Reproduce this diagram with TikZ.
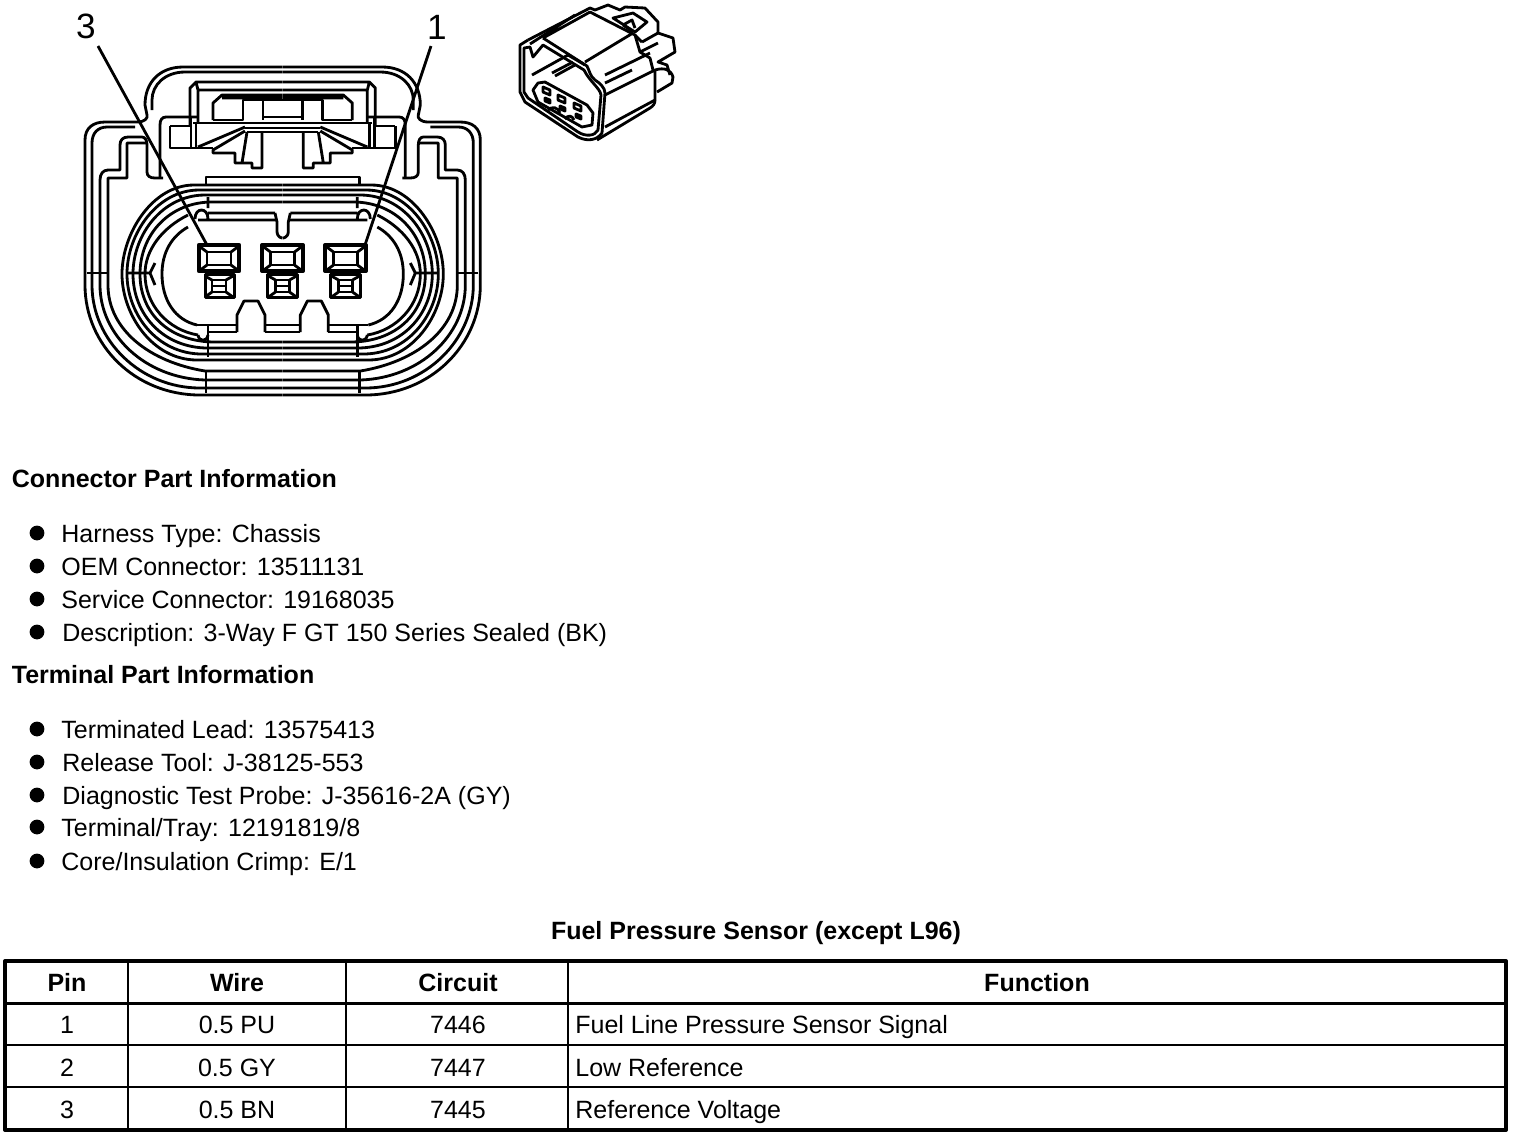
\documentclass[tikz,border=0pt]{standalone}
\usepackage{fontspec}
\setmainfont{Liberation Sans}
\tikzset{
    plain/.style={font=\fontsize{7.11}{9}\selectfont, inner sep=0pt, anchor=base west},
    heading/.style={plain, font=\fontsize{7.11}{9}\selectfont\bfseries},
    cell/.style={plain, anchor=base},
    headcell/.style={heading, anchor=base},
    pinlabel/.style={font=\fontsize{10}{11}\selectfont, inner sep=0pt},
    bullet/.style={circle, fill=black, inner sep=0pt, minimum size=4.2pt},
    pinbox/.style={draw, line width=1.1pt, inner sep=0pt, minimum width=11.5pt, minimum height=7.5pt},
    lugbox/.style={draw, line width=.9pt, inner sep=0pt, minimum width=8.4pt, minimum height=6.5pt},
}
\newcommand{\halfbody}{
    % shell
    \draw (282.5,395) -- (200,395) .. controls (135,395) and (85,345) .. (85,285) -- (85,140) .. controls (85,128) and (93,122) .. (105,122) -- (137,122) .. controls (145,122) and (148,118) .. (147,115) -- (145,105) .. controls (145,82) and (160,67) .. (183,67) -- (282.5,67);
    \draw (282.5,388) -- (200,388) .. controls (140,388) and (92,340) .. (92,285) -- (92,143) .. controls (92,133) and (98,127) .. (107,127) -- (135,127);
    \draw (282.5,380) -- (205,380) .. controls (145,378) and (100,335) .. (100,285) -- (100,180) .. controls (100,174) and (103,170) .. (108,170) -- (120,170) -- (120,145) .. controls (120,140) and (123,137) .. (128,137) -- (142,137) .. controls (145,137) and (147,140) .. (147,145) -- (147,172) .. controls (147,176) and (150,178) .. (155,178) -- (163,178);
    \draw (282.5,371) -- (205,371) .. controls (150,362) and (108,330) .. (108,285) -- (108,178) -- (127,178) -- (127,143) -- (147,143);
    \draw (152,110) -- (152,100) .. controls (152,85) and (165,72) .. (185,72) -- (282.5,72);
    \draw (206,371) -- (206,393) (87,273) -- (108,273);
    % latch
    \draw (282.5,82) -- (196,82) -- (190,88) -- (190,125) (198,90) -- (198,123) (196,82) -- (198,90) -- (282.5,90);
    \draw (213,120) -- (213,103) -- (222,95) -- (282.5,95) (222,98) -- (282.5,98);
    \draw (213,120) -- (243,120) -- (243,100) -- (282.5,100) (263,100) -- (263,120) (263,117) -- (282.5,117);
    \draw (193,123) -- (282.5,123) (245,128) -- (282.5,128) (247,132) -- (282.5,132);
    \draw (160,178) -- (160,125) .. controls (160,120) and (162,117) .. (166,117) -- (198,117);
    \draw (170,126) -- (170,148) -- (213,148) (170,126) -- (191,126) (191,117) -- (191,148) (196,123) -- (196,148);
    \draw (245,127) -- (198,147) (245,131) -- (213,150) -- (213,153) -- (235,153) -- (235,163) -- (252,163) -- (252,168) -- (262,168) -- (262,132) (242,163) -- (247,132);
    % gasket
    \draw (206,185) -- (206,177) -- (282.5,177);
    \foreach \l/\t/\b in {122/185/360, 127/190/354, 133/195/348, 140/202/342}
        \draw (282.5,\t) -- ({\l+72},\t) .. controls ({\l+30},\t) and (\l,234) .. (\l,274) .. controls (\l,314) and ({\l+30},\b) .. ({\l+75},\b) -- (282.5,\b);
    \draw (188,215) .. controls (162,228) and (145,250) .. (145,274) .. controls (145,305) and (168,330) .. (198,335);
    \draw (188,227) .. controls (172,236) and (162,252) .. (162,274) .. controls (162,300) and (175,320) .. (197,325);
    \draw (197,325) -- (237,325) (208,332) -- (237,332) (208,325) -- (208,357) (265,332) -- (282.5,332) (265,325) -- (282.5,325);
    \draw (128,273) -- (150,273) -- (155,263) (150,273) -- (155,285);
    \draw (195,219) .. controls (195,207) and (208,207) .. (208,219) (208,213) -- (275,213) (198,220) -- (276,220);
    \draw (198,335) .. controls (199,342) and (207,342) .. (208,335) (208,197) -- (208,208);
    \draw (275,213) -- (277,222) -- (277,231) .. controls (277,238) and (282.5,238) .. (282.5,238);
    % keys
    \draw (237,332) -- (237,315) -- (244,301) -- (258,301) -- (265,315) -- (265,332);
}
\begin{document}
\begin{tikzpicture}[x=0.01cm, y=-0.01cm, line join=round, line width=.8pt]
    \useasboundingbox (0,0) rectangle (1520,1138);

    \begin{scope}
        \halfbody
    \end{scope}
    \begin{scope}[xshift=5.65cm, xscale=-1]
        \halfbody
    \end{scope}

    % pins
    \node[pinbox] (pin3) at (219,258) {};
    \node[pinbox] (pin2) at (282.5,258) {};
    \node[pinbox] (pin1) at (345.5,258) {};
    \node[lugbox] (lug3) at (220,286) {};
    \node[lugbox] (lug2) at (282.5,286) {};
    \node[lugbox] (lug1) at (345.5,286) {};
    \foreach \x in {219,282.5,345.5} {
        \draw ({\x-12},252) rectangle ({\x+12},265);
        \draw ({\x-20},246) -- ({\x-12},252) ({\x+20},246) -- ({\x+12},252) ({\x-20},271) -- ({\x-12},265) ({\x+20},271) -- ({\x+12},265);
        \draw ({\x-7},280) rectangle ({\x+7},292) ({\x-7},286) -- ({\x+7},286);
        \draw ({\x-14},276) -- ({\x-7},280) ({\x+14},276) -- ({\x+7},280) ({\x-14},297) -- ({\x-7},292) ({\x+14},297) -- ({\x+7},292);
    }

    % leaders
    \node[pinlabel] (label3) at (86,26) {3};
    \node[pinlabel] (label1) at (437,27) {1};
    \coordinate (tip3) at (207,245);
    \coordinate (tip1) at (365,245);
    \coordinate (start3) at (98,46);
    \coordinate (start1) at (431,46);
    \draw (start3) -- (tip3);
    \draw (start1) -- (tip1);

    % small view
    \draw (528,40) -- (520,45) -- (520,92) -- (525,102) -- (578,137) .. controls (588,142) and (597,140) .. (602,133) -- (605,93) .. controls (605,88) and (600,83) .. (595,80) .. controls (590,76) and (590,72) .. (587,66) -- (543,38);
    \draw (524,48) -- (524,92) -- (528,98) -- (578,132) .. controls (586,137) and (595,136) .. (598,130) -- (601,95) .. controls (600,88) and (590,82) .. (584,70) -- (543,45) -- (533,57) -- (530,47) -- cycle;
    \draw (528,40) -- (590,8) -- (595,10) -- (608,5) -- (620,10) -- (625,7) -- (645,8) -- (658,22) -- (658,33) -- (673,38) -- (675,52) -- (658,62) -- (667,65) -- (670,75);
    \draw (530,44) -- (575,15) (543,38) -- (590,12) -- (635,35) -- (640,52) -- (650,58) -- (653,70);
    \draw (585,62) -- (633,33) (642,42) -- (658,33) (635,35) -- (642,42) (640,52) -- (658,43);
    \draw (613,18) -- (633,13) -- (647,22) -- (635,32) -- cycle (623,25) -- (632,20) -- (635,28) (623,25) -- (633,32);
    \draw (605,75) -- (650,53) (605,83) -- (632,70) (605,95) -- (655,70) -- (655,100) (605,127) -- (655,100);
    \draw (597,140) -- (650,108) .. controls (653,106) and (655,104) .. (655,100);
    \draw (655,70) .. controls (665,67) and (671,70) .. (673,77) -- (672,83) -- (657,92);
    \draw (532,75) -- (568,55) -- (585,65) (552,73) -- (573,62) (555,76) -- (575,65);
    \draw (533,90) -- (538,83) -- (545,82) -- (587,105) -- (593,113) -- (592,125) -- (582,127) -- (538,102) -- cycle;
    \foreach \x/\y in {543/87, 558/95, 574/103} {
        \draw (\x,\y) -- ({\x+7},{\y+3}) -- ({\x+7},{\y+8}) -- (\x,{\y+5}) -- cycle;
        \draw ({\x+2},{\y+11}) -- ({\x+7},{\y+13}) -- ({\x+7},{\y+16}) -- ({\x+2},{\y+14}) -- cycle;
    }
    \draw (548,110) .. controls (552,106) and (558,107) .. (560,113);
    \draw (565,119) .. controls (568,115) and (572,115) .. (574,120);

    % part information
    \node[heading] (connectorinfo) at (10.5,487) {Connector Part Information};
    \foreach \n/\x/\y/\t in {harness/60/542/{Harness Type: Chassis}, oem/60/575/{OEM Connector: 13511131}, service/60/608/{Service Connector: 19168035}, descr/61/641/{Description: 3-Way F GT 150 Series Sealed (BK)}} {
        \node[plain] (\n) at (\x,\y) {\t};
        \node[bullet] (\n bullet) at (37,{\y-9}) {};
    }
    \node[heading] (terminalinfo) at (10.5,683) {Terminal Part Information};
    \foreach \n/\x/\y/\t in {lead/60/738/{Terminated Lead: 13575413}, tool/61/771/{Release Tool: J-38125-553}, probe/61/804/{Diagnostic Test Probe: J-35616-2A (GY)}, tray/60/836/{Terminal/Tray: 12191819/8}, crimp/60/870/{Core/Insulation Crimp: E/1}} {
        \node[plain] (\n) at (\x,\y) {\t};
        \node[bullet] (\n bullet) at (37,{\y-9}) {};
    }

    % table
    \node[headcell] (tabletitle) at (756,939) {Fuel Pressure Sensor (except L96)};
    \draw[line width=1.15pt] (5,961) rectangle (1506,1130);
    \draw[line width=.85pt] (5,1003) -- (1506,1003);
    \draw[line width=.7pt] (5,1045) -- (1506,1045) (5,1087) -- (1506,1087);
    \draw[line width=.6pt] (128,961) -- (128,1130) (346,961) -- (346,1130);
    \draw[line width=.85pt] (568,961) -- (568,1130);
    \node[headcell] (headpin) at (67,991) {Pin};
    \node[headcell] (headwire) at (237,991) {Wire};
    \node[headcell] (headcircuit) at (458,991) {Circuit};
    \node[headcell] (headfunction) at (1037,991) {Function};
    \foreach \r/\y/\p/\w/\c/\f in {a/1033/1/0.5 PU/7446/Fuel Line Pressure Sensor Signal, b/1076/2/0.5 GY/7447/Low Reference, c/1118/3/0.5 BN/7445/Reference Voltage} {
        \node[cell] (pin\r) at (67,\y) {\p};
        \node[cell] (wire\r) at (237,\y) {\w};
        \node[cell] (circuit\r) at (458,\y) {\c};
        \node[plain] (function\r) at (574,\y) {\f};
    }
\end{tikzpicture}
\end{document}
